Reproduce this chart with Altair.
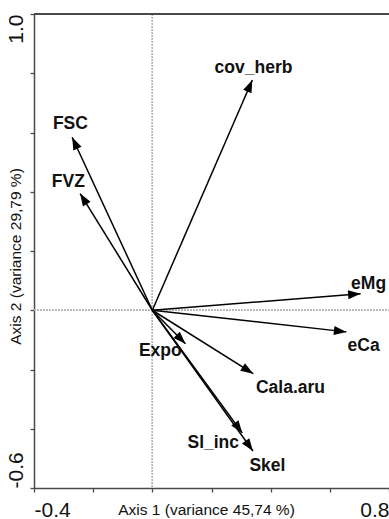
import altair as alt
import pandas as pd

# Loadings (arrow tips)
names = ["cov_herb", "FSC", "FVZ", "eMg", "eCa", "Expo", "Cala.aru", "Sl_inc", "Skel"]
tip_x = [0.338, -0.271, -0.244, 0.704, 0.656, 0.112, 0.341, 0.304, 0.340]
tip_y = [0.777, 0.584, 0.394, 0.056, -0.073, -0.113, -0.214, -0.414, -0.475]
# label anchor positions (data units)
lab_x = [0.342, -0.277, -0.284, 0.731, 0.714, 0.027, 0.467, 0.206, 0.389]
lab_y = [0.817, 0.628, 0.432, 0.090, -0.119, -0.136, -0.262, -0.448, -0.525]

x_ticks = [-0.4, -0.2, 0.0, 0.2, 0.4, 0.6, 0.8]
y_ticks = [-0.6, -0.4, -0.2, 0.0, 0.2, 0.4, 0.6, 0.8, 1.0]
x_title = "Axis 1 (variance 45,74 %)"
y_title = "Axis 2 (variance 29,79 %)"

df = pd.DataFrame({"name": names, "x": tip_x, "y": tip_y, "lx": lab_x, "ly": lab_y})

W, H = 355, 474
AX = "#4a4a4a"

xs = alt.Scale(domain=[-0.4, 0.8], nice=False, zero=False)
ys = alt.Scale(domain=[-0.6, 1.0], nice=False, zero=False)

x_axis = alt.Axis(
    values=x_ticks, title=x_title,
    labelExpr="datum.value < -0.39 ? '-0.4' : (datum.value > 0.79 ? '0.8' : '')",
    labelFont="Liberation Sans", labelFontSize=21, labelColor="#111",
    labelAlign=alt.condition("datum.value < 0", alt.value("left"), alt.value("right")),
    labelBaseline="middle", labelPadding=18, labelFlush=False, labelOverlap=False,
    tickSize=4, tickColor=AX, domainColor=AX, domainWidth=1.5, tickWidth=1.3,
    grid=False, titleFont="Liberation Sans", titleFontSize=15.5, titleFontWeight="normal",
    titleColor="#111", titleBaseline="middle", titleY=21, titleX=172,
)
y_axis = alt.Axis(
    values=y_ticks, title=y_title,
    labelExpr="datum.value < -0.59 ? '-0.6' : (datum.value > 0.99 ? '1.0' : '')",
    labelFont="Liberation Sans", labelFontSize=21, labelColor="#111",
    labelAngle=270,
    labelAlign=alt.condition("datum.value < 0", alt.value("left"), alt.value("right")),
    labelBaseline="middle", labelPadding=14, labelFlush=False, labelOverlap=False,
    tickSize=4, tickColor=AX, domainColor=AX, domainWidth=1.5, tickWidth=1.3,
    grid=False, titleFont="Liberation Sans", titleFontSize=15.5, titleFontWeight="normal",
    titleColor="#111", titleBaseline="middle", titleX=-19, titleY=242, titleAngle=270,
)

base = alt.Chart(df)

ref_v = base.mark_rule(color="#b5b5b5", strokeDash=[1.5, 1.5], strokeWidth=1).encode(
    x=alt.datum(0, scale=xs, axis=x_axis), y=alt.value(0), y2=alt.value(H)
)
ref_h = base.mark_rule(color="#b5b5b5", strokeDash=[1.5, 1.5], strokeWidth=1).encode(
    y=alt.datum(0, scale=ys, axis=y_axis), x=alt.value(0), x2=alt.value(W)
)
top = base.mark_rule(color=AX, strokeWidth=1.5).encode(
    y=alt.value(0), x=alt.value(0), x2=alt.value(W)
)

shafts = base.transform_calculate(x0="0", y0="0").mark_rule(
    color="black", strokeWidth=1.5
).encode(
    x=alt.X("x0:Q", scale=xs, axis=x_axis),
    y=alt.Y("y0:Q", scale=ys, axis=y_axis),
    x2="x:Q", y2="y:Q",
)

heads = base.transform_calculate(
    ang="(atan2(datum.x, datum.y) * 180 / PI + 360) % 360"
).mark_point(
    shape="M0,0L-0.36,1L0.36,1Z", filled=True, color="black", opacity=1, size=625, strokeWidth=0
).encode(
    x=alt.X("x:Q", scale=xs, axis=x_axis),
    y=alt.Y("y:Q", scale=ys, axis=y_axis),
    angle=alt.Angle("ang:Q", scale=None),
)

labels = base.mark_text(
    font="Liberation Sans", fontSize=17.5, fontWeight="bold", color="#111",
    align="center", baseline="middle"
).encode(
    x=alt.X("lx:Q", scale=xs, axis=x_axis),
    y=alt.Y("ly:Q", scale=ys, axis=y_axis),
    text="name:N",
)

chart = alt.layer(ref_v, ref_h, top, shafts, heads, labels).properties(
    width=W, height=H,
    padding={"left": 34, "top": 14, "right": 0, "bottom": 31},
    autosize=alt.AutoSizeParams(type="none"),
).configure_view(stroke=None).configure(background="white")

chart.save("out.html", embed_options={"renderer": "svg", "actions": False})
